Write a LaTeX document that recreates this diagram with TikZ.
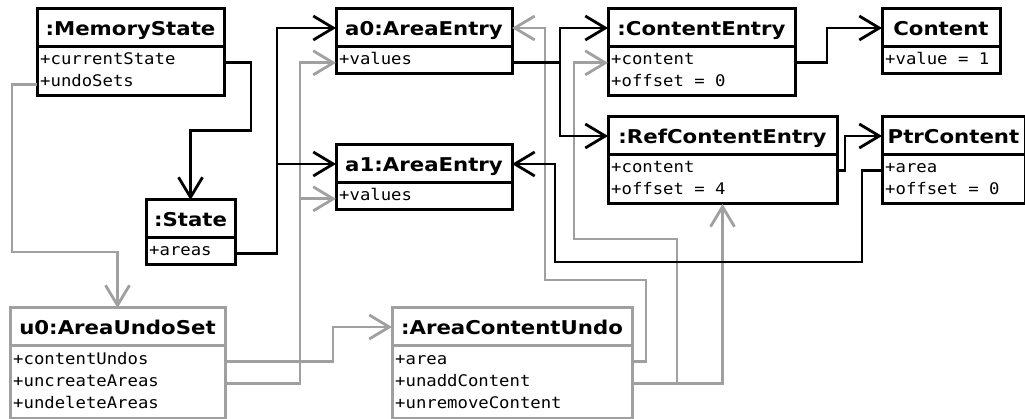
\documentclass[tikz,border=0pt]{standalone}
\usepackage{fontspec}
\usetikzlibrary{arrows.meta,calc}
\newfontfamily\dvsans{DejaVu Sans}[FakeStretch=1.12]
\newfontfamily\dvmono{DejaVu Sans Mono}[FakeStretch=1.08]
\definecolor{grayc}{RGB}{160,160,160}
\newcommand\umlclass[7][]{%
  \node[box,#1, minimum width=#4pt, minimum height=38pt] (#2) at (#3) {};
  \node[box,#1, minimum width=#4pt, minimum height=#5pt] (#2-b) at ($(#2.north west)+(0,38)$) {};
  \node[ttl] (#2-t) at ($(#2.north west)+(#4/2,26.5)$) {#6};
  \foreach \txt [count=\k] in {#7} {\node[att] (#2-a\k) at ($(#2-b.north west)+(3,{18+22*(\k-1)})$) {\txt};}
}
\begin{document}
\begin{tikzpicture}[x=1pt,y=-1pt,
  box/.style={draw, line width=3pt, outer sep=0pt, inner sep=0pt, anchor=north west},
  ttl/.style={font=\dvsans\bfseries\fontsize{19}{20}\selectfont, anchor=base, inner sep=0pt},
  att/.style={font=\dvmono\fontsize{16}{22}\selectfont, anchor=base west, inner sep=0pt},
  conn/.style={line width=2.8pt, -{Straight Barb[length=20pt,width=24pt]}},
  gbox/.style={draw=grayc}]
\useasboundingbox (0,0) rectangle (1025,419);
\umlclass{ms}{37,9}{187}{49}{:MemoryState}{+currentState,+undoSets}
\umlclass{st}{146,200}{89}{27}{:State}{+areas}
\umlclass{a0}{336,9}{176}{27}{a0:AreaEntry}{+values}
\umlclass{a1}{336,145}{176}{27}{a1:AreaEntry}{+values}
\umlclass{ce}{608,9}{187}{49}{:ContentEntry}{+content,+offset = 0}
\umlclass{cnt}{882,9}{118}{27}{Content}{+value = 1}
\umlclass{rce}{608,117}{229}{49}{:RefContentEntry}{+content,+offset = 4}
\umlclass{ptr}{882,117}{143}{49}{PtrContent}{+area,+offset = 0}
\umlclass[gbox]{u0}{10,308}{215}{72}{u0:AreaUndoSet}{+contentUndos,+uncreateAreas,+undeleteAreas}
\umlclass[gbox]{acu}{392,308}{240}{72}{:AreaContentUndo}{+area,+unaddContent,+unremoveContent}
\begin{scope}[conn, draw=grayc]
 \draw (ms-b.west |- ms-a2.mid) -| (12,252) -| (u0.north);
 \draw (u0-b.east |- u0-a1.mid) -| ($(acu.west)+(-59,0)$) -- (acu.west);
 \draw (u0-b.east |- u0-a2.mid) -| ($(a0-b.west |- a0-a1.mid)+(-36,0)$) -- (a0-b.west |- a0-a1.mid);
 \draw (u0-b.east |- u0-a2.mid) -| ($(a1-b.west |- a1-a1.mid)+(-36,0)$) -- (a1-b.west |- a1-a1.mid);
 \draw (acu-b.east |- acu-a1.mid) -| (646,280) -| ($(a0.east)+(33,0)$) -- (a0.east);
 \draw (acu-b.east |- acu-a2.mid) -| (677,239) -| ($(ce-b.west |- ce-a1.mid)+(-34,0)$) -- (ce-b.west |- ce-a1.mid);
 \draw (acu-b.east |- acu-a2.mid) -| (rce-b.south);
\end{scope}
\begin{scope}[conn]
 \draw (ms-b.east |- ms-a1.mid) -| ++(27,68) -| (st.north);
 \draw (st-b.east |- st-a1.mid) -| ($(a0.west)+(-59,0)$) -- (a0.west);
 \draw (st-b.east |- st-a1.mid) -| ($(a1.west)+(-59,0)$) -- (a1.west);
 \draw (a0-b.east |- a0-a1.mid) -| ($(ce.west)+(-48,0)$) -- (ce.west);
 \draw (a0-b.east |- a0-a1.mid) -| ($(rce.west)+(-48,0)$) -- (rce.west);
 \draw (ce-b.east |- ce-a1.mid) -| ($(cnt.west)+(-55,0)$) -- (cnt.west);
 \draw (rce-b.east |- rce-a1.mid) -| ($(ptr.west)+(-37,0)$) -- (ptr.west);
 \draw (ptr-b.west |- ptr-a1.mid) -| (862,262) -| ($(a1.east)+(43,0)$) -- (a1.east);
\end{scope}
\end{tikzpicture}
\end{document}
